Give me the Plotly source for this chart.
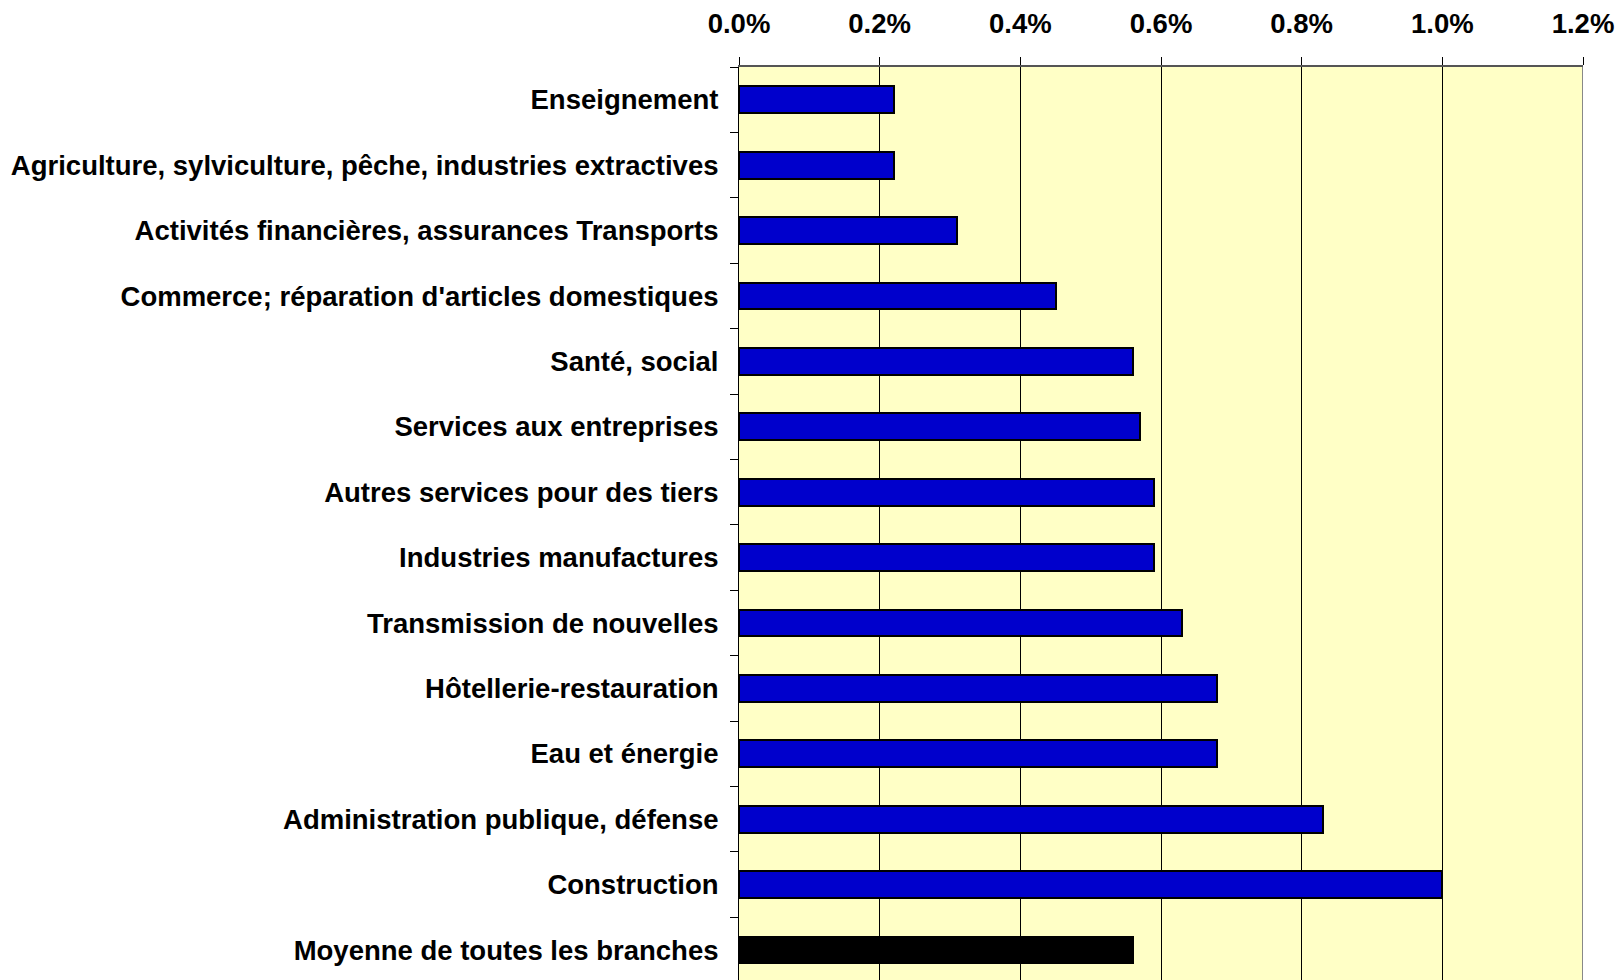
import plotly.graph_objects as go

# Part des dépenses par branche (en fraction)
branches = [
    "Enseignement",
    "Agriculture, sylviculture, pêche, industries extractives",
    "Activités financières, assurances Transports",
    "Commerce; réparation d'articles domestiques",
    "Santé, social",
    "Services aux entreprises",
    "Autres services pour des tiers",
    "Industries manufactures",
    "Transmission de nouvelles",
    "Hôtellerie-restauration",
    "Eau et énergie",
    "Administration publique, défense",
    "Construction",
    "Moyenne de toutes les branches",
]
valeurs = [0.0022, 0.0022, 0.0031, 0.0045, 0.0056, 0.0057, 0.0059,
           0.0059, 0.0063, 0.0068, 0.0068, 0.0083, 0.0100, 0.0056]
couleurs = ["#0000CC"] * 13 + ["#000000"]

x_ticks = [0, 0.002, 0.004, 0.006, 0.008, 0.010, 0.012]

FONT = "Liberation Sans, Arial, sans-serif"

fig = go.Figure(
    go.Bar(
        x=valeurs,
        y=branches,
        orientation="h",
        width=0.41,
        marker=dict(color=couleurs, line=dict(color="black", width=2)),
        hoverinfo="x+y",
    )
)

fig.update_layout(
    width=1617,
    height=980,
    margin=dict(l=739, r=34, t=67, b=0),
    paper_bgcolor="white",
    plot_bgcolor="#FFFFC6",
    showlegend=False,
    font=dict(family=FONT, size=27.5, color="black"),
    bargap=0,
)

fig.update_xaxes(
    side="top",
    range=[0, 0.012],
    tickvals=x_ticks,
    tickformat=".1%",
    tickfont=dict(size=27.5, family=FONT, weight="bold"),
    showgrid=True,
    gridcolor="black",
    gridwidth=1,
    ticks="outside",
    ticklen=8,
    tickcolor="black",
    showline=True,
    linecolor="#555555",
    linewidth=2,
    ticklabelstandoff=13,
    zeroline=False,
)

fig.update_yaxes(
    type="category",
    categoryorder="array",
    categoryarray=branches,
    range=[13.46, -0.5],
    tickson="boundaries",
    ticks="outside",
    ticklen=8,
    tickcolor="black",
    showline=True,
    linecolor="black",
    linewidth=1,
    tickfont=dict(size=27.5, family=FONT, weight="bold"),
    ticklabelstandoff=14,
    showgrid=False,
)

# bordure droite de la zone de tracé
fig.add_shape(type="line", xref="x", yref="paper", x0=0.012, x1=0.012, y0=0, y1=1,
              line=dict(color="#888888", width=2))

# pas de marge par défaut autour du graphique dans la page
fig.write_html(
    "out.html",
    config={"displayModeBar": False},
    post_script="document.body.style.margin='0';",
)
